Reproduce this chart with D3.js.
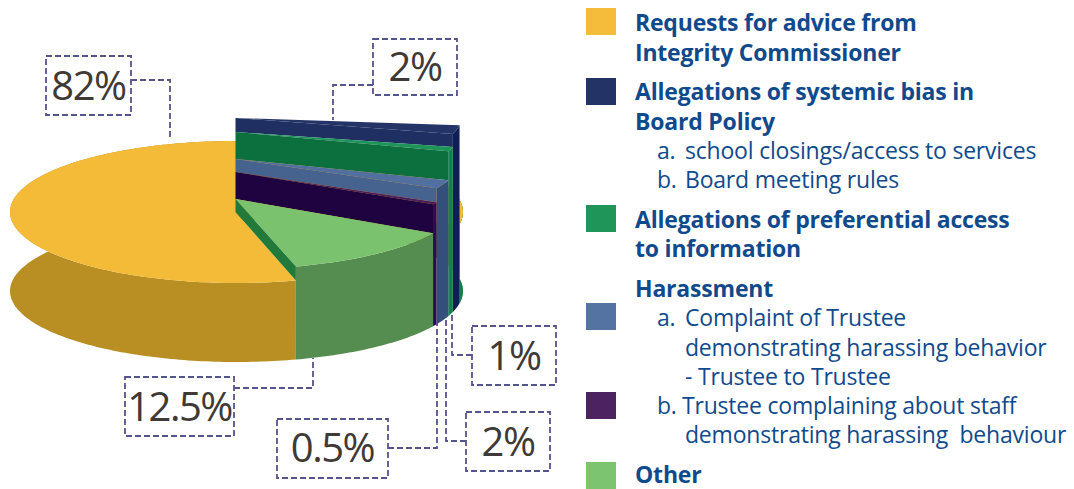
<!DOCTYPE html>
<html>
<head>
<meta charset="utf-8">
<script src="https://cdn.jsdelivr.net/npm/d3@7"></script>
<style>
    html, body { margin: 0; padding: 0; background: #fff; }
    svg { display: block; }
    text { font-family: "Open Sans", sans-serif; }
</style>
</head>
<body>
<svg width="1074" height="489"></svg>
<script>
// values, in pie order clockwise from the back right
const sliceNames = ["Systemic bias", "Preferential access", "Harassment a", "Harassment b", "Other", "Requests for advice"];
const sliceValues = [2, 1, 2, 0.5, 12.5, 82];
const sliceLabels = ["2%", "1%", "2%", "0.5%", "12.5%", "82%"];

// how far each slice is raised above the yellow one, at the centre and at the rim
const centreRaise = [94, 80, 53, 40, 13, 0];
const rimRaise = [99, 86, 57, 43, 14, 0];

const topColors = ["#253467", "#1e9459", "#52709f", "#4b1f5e", "#7bc26e", "#f3bb38"];
const wallColors = ["#1f2f62", "#0b6f3e", "#46638f", "#1e0340", "#217a3a", "#f3bb38"];
const sideColors = ["#101e58", "#128050", "#34507a", "#2e0a55", "#558c4f", "#b98f24"];

const legendSwatches = ["#f4bc3a", "#243366", "#1f9559", "#5473a3", "#4d2260", "#7dc470"];
const swatchTops = [8, 78, 205, 303, 392, 462];

const legendLines = [
    { t: "Requests for advice from", x: 635, y: 31, b: true },
    { t: "Integrity Commissioner", x: 635, y: 60.5, b: true },
    { t: "Allegations of systemic bias in", x: 635, y: 100, b: true },
    { t: "Board Policy", x: 635, y: 130, b: true },
    { t: "a.", x: 657, y: 159 },
    { t: "school closings/access to services", x: 685, y: 159 },
    { t: "b.", x: 657, y: 188 },
    { t: "Board meeting rules", x: 685, y: 188 },
    { t: "Allegations of preferential access", x: 635, y: 228, b: true },
    { t: "to information", x: 635, y: 257, b: true },
    { t: "Harassment", x: 635, y: 297, b: true },
    { t: "a.", x: 657, y: 326 },
    { t: "Complaint of Trustee", x: 685, y: 326 },
    { t: "demonstrating harassing behavior", x: 685, y: 356 },
    { t: "- Trustee to Trustee", x: 685, y: 385 },
    { t: "b.", x: 657, y: 414 },
    { t: "Trustee complaining about staff", x: 682, y: 414 },
    { t: "demonstrating harassing  behaviour", x: 685, y: 443 },
    { t: "Other", x: 635, y: 483, b: true }
];

// callout boxes, same order as sliceLabels, with the elbow line back to the pie
const callouts = [
    { box: [373, 39, 84, 56], base: 81, line: [[373, 85], [333, 85], [333, 120]] },
    { box: [472, 326, 84, 59], base: 370, line: [[472, 355], [452, 355], [452, 312]] },
    { box: [466, 412, 84, 59], base: 456, line: [[466, 441], [446, 441], [446, 316]] },
    { box: [277, 419, 111, 59], base: 462, line: [[388, 448], [437, 448], [437, 323]] },
    { box: [125, 377, 109, 59], base: 421, line: [[234, 388], [313, 388], [313, 358]] },
    { box: [46, 56, 85, 59], base: 100, line: [[131, 80], [170, 80], [170, 140]] }
];

const depth = 79;
const xScale = d3.scaleLinear().domain([-1, 1]).range([10, 463]);
const yScale = d3.scaleLinear().domain([-1, 1]).range([141, 283]);

const rimX = a => xScale(Math.sin(a));
const rimY = (a, h) => yScale(-Math.cos(a)) - h;
const centre = h => [xScale(0) - 1, yScale(0) - h];

const pie = d3.pie().sort(null)
    .startAngle(100 * Math.PI / 180)
    .endAngle(460 * Math.PI / 180);
const arcs = pie(sliceValues);

const line = d3.line();
const arcAngles = (a0, a1) => {
    const n = Math.max(2, Math.ceil((a1 - a0) / 0.02));
    return d3.range(n + 1).map(i => a0 + (a1 - a0) * i / n);
};

const svg = d3.select("svg");
const pieG = svg.append("g");

function side(a0, a1, h, fill) {
    const pts = arcAngles(a0, a1);
    const top = pts.map(a => [rimX(a), rimY(a, h)]);
    const bottom = pts.slice().reverse().map(a => [rimX(a), rimY(a, -depth)]);
    pieG.append("path").attr("d", line(top.concat(bottom)) + "Z").attr("fill", fill);
}

function topFace(a0, a1, i) {
    const pts = arcAngles(a0, a1).map(a => [rimX(a), rimY(a, rimRaise[i])]);
    pieG.append("path").attr("d", line([centre(centreRaise[i])].concat(pts)) + "Z").attr("fill", topColors[i]);
}

// yellow first, it runs round behind all the raised slices
const yellow = arcs[5];
side(yellow.startAngle, yellow.endAngle, 0, sideColors[5]);
// the original has a green edge down the far right of the pie
side(80 * Math.PI / 180, yellow.endAngle - 2 * Math.PI, 0, sideColors[1]);
topFace(yellow.startAngle, yellow.endAngle, 5);

// then back to front, each wall drops to the height of the next slice
arcs.slice(0, 5).forEach((d, i) => {
    side(d.startAngle, d.endAngle, rimRaise[i], sideColors[i]);
    topFace(d.startAngle, d.endAngle, i);
    const wall = [
        centre(centreRaise[i]),
        [rimX(d.endAngle), rimY(d.endAngle, rimRaise[i])],
        [rimX(d.endAngle), rimY(d.endAngle, rimRaise[i + 1])],
        centre(centreRaise[i + 1])
    ];
    pieG.append("path").attr("d", line(wall) + "Z").attr("fill", wallColors[i]);
});

// callouts
const calloutG = svg.append("g");
callouts.forEach((c, i) => {
    calloutG.append("rect")
        .attr("x", c.box[0]).attr("y", c.box[1])
        .attr("width", c.box[2]).attr("height", c.box[3])
        .attr("fill", "none").attr("stroke", "#55538c")
        .attr("stroke-width", 1.8).attr("stroke-dasharray", "6,3");
    calloutG.append("path")
        .attr("d", line(c.line))
        .attr("fill", "none").attr("stroke", "#55538c")
        .attr("stroke-width", 1.8).attr("stroke-dasharray", "6,3");
    calloutG.append("text")
        .attr("x", c.box[0] + c.box[2] / 2).attr("y", c.base)
        .attr("text-anchor", "middle")
        .attr("font-size", 40).attr("letter-spacing", -1.5)
        .attr("fill", "#3f3a36")
        .text(sliceLabels[i]);
});

// legend
const legendG = svg.append("g");
legendG.selectAll("rect").data(legendSwatches).enter().append("rect")
    .attr("x", 586).attr("y", (d, i) => swatchTops[i])
    .attr("width", 30).attr("height", 27)
    .attr("fill", d => d);
legendG.selectAll("text").data(legendLines).enter().append("text")
    .attr("x", d => d.x).attr("y", d => d.y)
    .attr("font-size", 23)
    .attr("font-weight", d => d.b ? 700 : 400)
    .attr("letter-spacing", -0.2)
    .attr("fill", "#114a8c")
    .style("white-space", "pre")
    .text(d => d.t);
</script>
</body>
</html>
